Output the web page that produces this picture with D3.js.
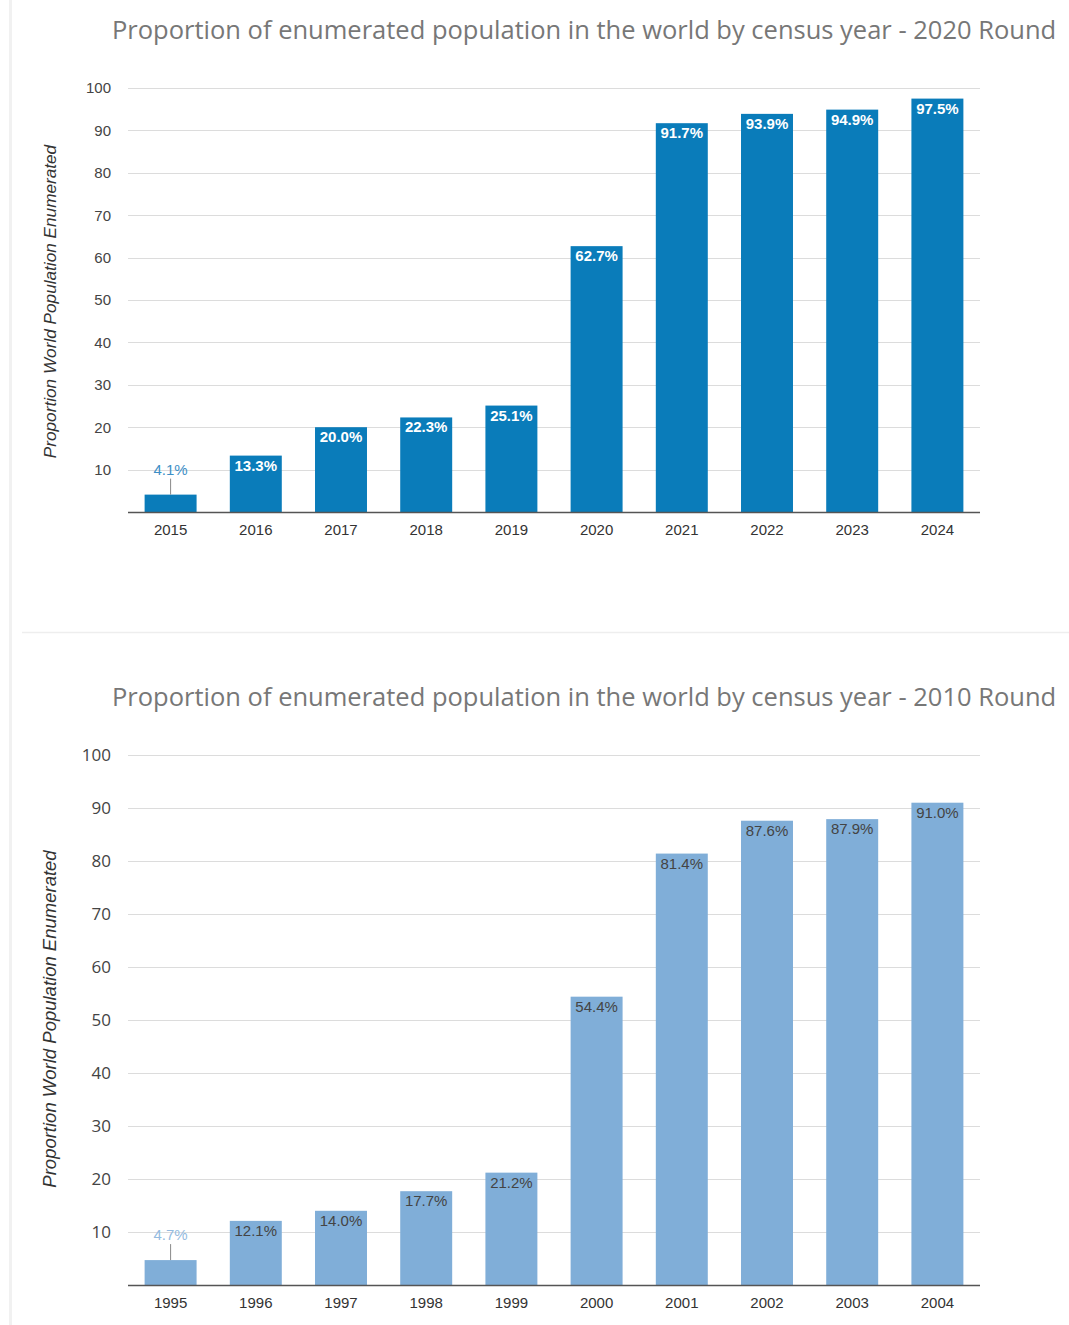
<!DOCTYPE html>
<html>
<head>
<meta charset="utf-8">
<script src="https://cdn.jsdelivr.net/npm/d3@7"></script>
<style>
  body { margin: 0; background: #fff; }
  svg { display: block; }
</style>
</head>
<body>
<div id="page"></div>
<script>
// data
const years2020 = ['2015', '2016', '2017', '2018', '2019', '2020', '2021', '2022', '2023', '2024'];
const values2020 = [4.1, 13.3, 20.0, 22.3, 25.1, 62.7, 91.7, 93.9, 94.9, 97.5];
const years2010 = ['1995', '1996', '1997', '1998', '1999', '2000', '2001', '2002', '2003', '2004'];
const values2010 = [4.7, 12.1, 14.0, 17.7, 21.2, 54.4, 81.4, 87.6, 87.9, 91.0];
const yTicks = [10, 20, 30, 40, 50, 60, 70, 80, 90, 100];

const W = 1069, H = 1325;
const svg = d3.select('#page').append('svg')
  .attr('width', W)
  .attr('height', H);

// card edge + separator
svg.append('rect')
  .attr('x', 9).attr('y', 0).attr('width', 3).attr('height', H)
  .attr('fill', '#f1f1f1');
svg.append('line')
  .attr('x1', 22).attr('x2', W).attr('y1', 632.5).attr('y2', 632.5)
  .attr('stroke', '#eeeeee').attr('stroke-width', 1.5);

function drawChart(opt) {
  const g = svg.append('g');

  const sx = d3.scaleBand()
    .domain(opt.years)
    .range([128, 980])
    .paddingInner(0.39)
    .paddingOuter(0.195);

  const sy = d3.scaleLinear()
    .domain([0, 100])
    .range([opt.bottom, opt.top]);

  g.append('text')
    .attr('x', 112)
    .attr('y', opt.titleY)
    .attr('fill', '#777')
    .style('font-family', '"Open Sans", sans-serif')
    .style('font-size', '25.5px')
    .text(opt.title);

  // gridlines
  g.selectAll('.grid')
    .data(yTicks)
    .enter()
    .append('line')
    .attr('class', 'grid')
    .attr('x1', 128).attr('x2', 980)
    .attr('y1', (d) => Math.round(sy(d)) + 0.5)
    .attr('y2', (d) => Math.round(sy(d)) + 0.5)
    .attr('stroke', '#dcdcdc')
    .attr('stroke-width', 1.2);

  g.selectAll('.ytick')
    .data(yTicks)
    .enter()
    .append('text')
    .attr('class', 'ytick')
    .attr('x', 111)
    .attr('y', (d) => sy(d))
    .attr('dy', '0.36em')
    .attr('text-anchor', 'end')
    .attr('fill', '#444')
    .style('font-family', opt.tickFont)
    .style('font-size', opt.tickSize)
    .text((d) => d);

  // axis title
  const ty = (opt.top + opt.bottom) / 2 + opt.titleShift;
  g.append('text')
    .attr('transform', 'translate(56,' + ty + ') rotate(-90)')
    .attr('text-anchor', 'middle')
    .attr('fill', '#333')
    .style('font-family', 'Arial, "Liberation Sans", sans-serif')
    .style('font-style', 'italic')
    .style('font-size', opt.titleSize)
    .text('Proportion World Population Enumerated');

  const data = opt.years.map((y, i) => ({year: y, value: opt.values[i]}));

  g.selectAll('.bar')
    .data(data)
    .enter()
    .append('rect')
    .attr('class', 'bar')
    .attr('x', (d) => sx(d.year))
    .attr('width', sx.bandwidth())
    .attr('y', (d) => sy(d.value))
    .attr('height', (d) => sy(0) - sy(d.value))
    .attr('fill', opt.color);

  // baseline
  g.append('line')
    .attr('x1', 128).attr('x2', 980)
    .attr('y1', opt.bottom + 0.5).attr('y2', opt.bottom + 0.5)
    .attr('stroke', '#555')
    .attr('stroke-width', 1.5);

  g.selectAll('.xtick')
    .data(opt.years)
    .enter()
    .append('text')
    .attr('class', 'xtick')
    .attr('x', (d) => sx(d) + sx.bandwidth() / 2)
    .attr('y', opt.bottom + 23)
    .attr('text-anchor', 'middle')
    .attr('fill', '#333')
    .style('font-family', 'Arial, "Liberation Sans", sans-serif')
    .style('font-size', '15px')
    .text((d) => d);

  // value labels: inside the bar top, or above with a leader for short bars
  const small = (d) => sy(0) - sy(d.value) < 30;

  g.selectAll('.leader')
    .data(data.filter(small))
    .enter()
    .append('line')
    .attr('x1', (d) => sx(d.year) + sx.bandwidth() / 2)
    .attr('x2', (d) => sx(d.year) + sx.bandwidth() / 2)
    .attr('y1', (d) => sy(d.value) - 16)
    .attr('y2', (d) => sy(d.value))
    .attr('stroke', '#888')
    .attr('stroke-width', 1);

  g.selectAll('.vlabel')
    .data(data)
    .enter()
    .append('text')
    .attr('class', 'vlabel')
    .attr('x', (d) => sx(d.year) + sx.bandwidth() / 2)
    .attr('y', (d) => small(d) ? sy(d.value) - 20 : sy(d.value) + 15)
    .attr('text-anchor', 'middle')
    .attr('fill', (d) => small(d) ? opt.outsideColor : opt.labelColor)
    .style('font-family', 'Arial, "Liberation Sans", sans-serif')
    .style('font-size', '15px')
    .style('font-weight', (d) => small(d) ? 'normal' : opt.labelWeight)
    .text((d) => d.value.toFixed(1) + '%');
}

drawChart({
  title: 'Proportion of enumerated population in the world by census year - 2020 Round',
  titleY: 39,
  years: years2020,
  values: values2020,
  top: 88,
  bottom: 512,
  color: '#0a7cba',
  labelColor: '#ffffff',
  labelWeight: 'bold',
  outsideColor: '#3d8fc6',
  tickFont: 'Arial, "Liberation Sans", sans-serif',
  tickSize: '15px',
  titleSize: '17.2px',
  titleShift: 1.5
});

drawChart({
  title: 'Proportion of enumerated population in the world by census year - 2010 Round',
  titleY: 706,
  years: years2010,
  values: values2010,
  top: 755,
  bottom: 1285,
  color: '#80aed8',
  labelColor: '#444444',
  labelWeight: 'normal',
  outsideColor: '#94bbe0',
  tickFont: '"Open Sans", sans-serif',
  tickSize: '17px',
  titleSize: '18.5px',
  titleShift: -1
});
</script>
</body>
</html>
